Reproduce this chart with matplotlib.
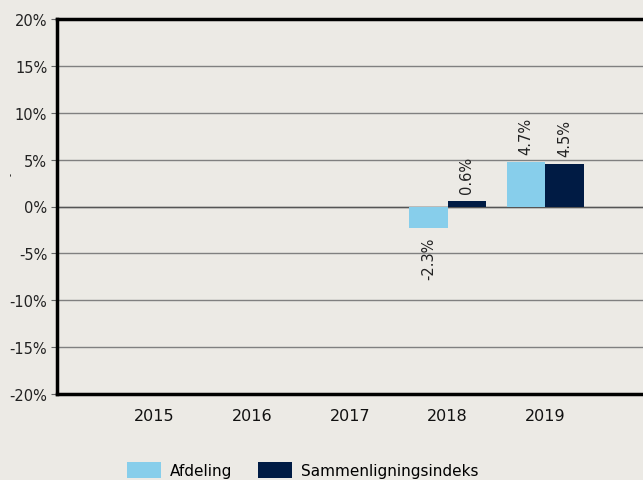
import numpy as np
import matplotlib
matplotlib.use("Agg")
import matplotlib.pyplot as plt

years = ["2015", "2016", "2017", "2018", "2019"]
afdeling = [np.nan, np.nan, np.nan, -2.3, 4.7]
sammen = [np.nan, np.nan, np.nan, 0.6, 4.5]
yticks = [-20, -15, -10, -5, 0, 5, 10, 15, 20]

bg = "#ECEAE5"
c_afd = "#87CEEB"
c_sam = "#001B44"

plt.rcParams["font.family"] = ["DejaVu Sans"]

fig = plt.figure(figsize=(6.43, 4.81), dpi=100, facecolor=bg)
ax = fig.add_axes([57 / 643, 1 - 395 / 481, 1 - 57 / 643, (395 - 20) / 481])
ax.set_facecolor(bg)

x = np.arange(len(years))
w = 0.395
b1 = ax.bar(x - w / 2, afdeling, w, color=c_afd, label="Afdeling", zorder=3)
b2 = ax.bar(x + w / 2, sammen, w, color=c_sam, label="Sammenligningsindeks", zorder=3)

for bars, vals in ((b1, afdeling), (b2, sammen)):
    for rect, v in zip(bars, vals):
        if np.isnan(v):
            continue
        cx = rect.get_x() + rect.get_width() / 2
        off = 6 if v >= 0 else -6
        ax.annotate(f"{v:.1f}%", (cx, v), xytext=(0, off), textcoords="offset points",
                    rotation=90, ha="center", va="bottom" if v >= 0 else "top",
                    fontsize=10.5, color="#222222")

ax.set_ylim(-20, 20)
ax.set_xlim(-1, 5)
ax.set_yticks(yticks)
ax.set_yticklabels([f"{t}%" for t in yticks], fontsize=10.5, color="#222222")
ax.set_xticks(x)
ax.set_xticklabels(years, fontsize=11.5, color="#111111")
ax.tick_params(axis="x", length=0, pad=10)
ax.tick_params(axis="y", length=4, width=0.8, color="#666666", pad=3)

ax.grid(axis="y", color="#808080", linewidth=1.0, zorder=1)
ax.axhline(0, color="#555555", linewidth=1.0, zorder=2)
for s in ("left", "bottom", "top"):
    ax.spines[s].set_linewidth(2.5)
    ax.spines[s].set_color("black")
ax.spines["right"].set_visible(False)

fig.text(11 / 643, 1 - 175 / 481, "-", rotation=90, fontsize=6, ha="center", va="center")

fig.legend(loc="upper center", bbox_to_anchor=(0.471, 1 - 449 / 481), ncol=2,
           frameon=False, fontsize=11, handlelength=2.2, handleheight=1.3,
           columnspacing=1.7, handletextpad=0.6)

fig.savefig("out.png", dpi=100, facecolor=bg)
